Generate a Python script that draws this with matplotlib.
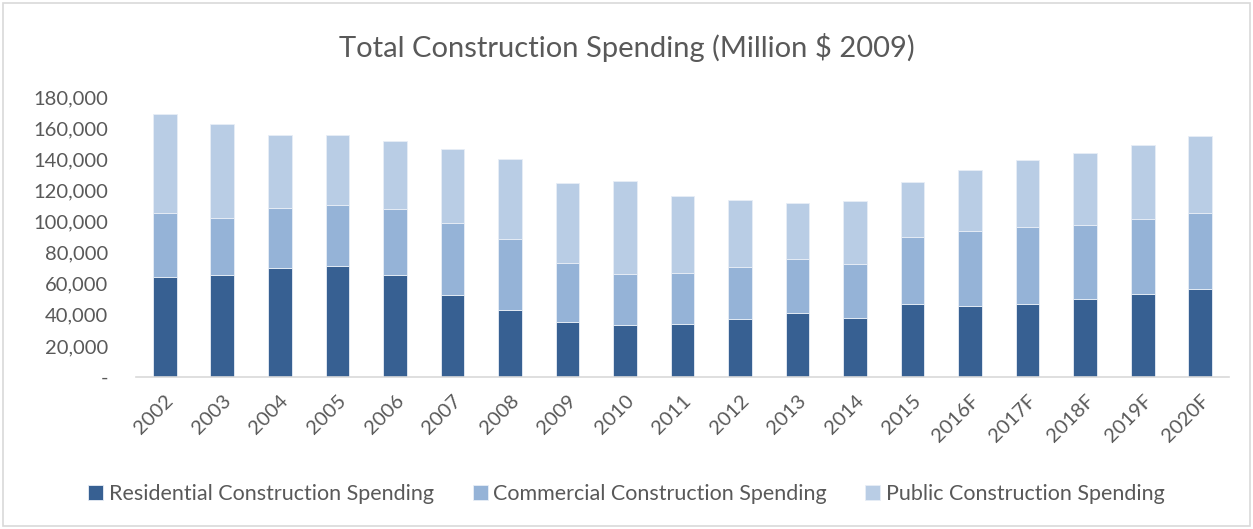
import matplotlib
matplotlib.use("Agg")
import matplotlib.pyplot as plt
from matplotlib.patches import Rectangle
from matplotlib.ticker import FuncFormatter
import numpy as np

plt.rcParams['font.family'] = ['Lato', 'DejaVu Sans']

years = ["2002", "2003", "2004", "2005", "2006", "2007", "2008", "2009", "2010",
         "2011", "2012", "2013", "2014", "2015", "2016F", "2017F", "2018F", "2019F", "2020F"]
residential = [64500, 65400, 70300, 71600, 65400, 52900, 43100, 35600, 33600,
               34300, 37500, 41300, 38100, 47100, 45400, 46900, 50100, 53600, 56800]
commercial = [41100, 37000, 38600, 39000, 42800, 46300, 45800, 37900, 32800,
              32800, 33000, 34800, 34800, 43100, 48500, 49500, 47800, 48200, 48600]
public = [63500, 60200, 46700, 45000, 43700, 47400, 51100, 51200, 59800,
          49000, 43100, 35800, 40000, 35200, 39200, 43100, 46100, 47600, 49400]

labels = ["Residential Construction Spending", "Commercial Construction Spending",
          "Public Construction Spending"]
colors = ["#376092", "#95B3D7", "#B9CDE5"]

fig = plt.figure(figsize=(12.53, 5.29), dpi=100)
ax = fig.add_axes([136/1253, 1-377/529, (1229-136)/1253, 280/529])

x = np.arange(len(years))
res = np.array(residential)
com = np.array(commercial)
pub = np.array(public)
ax.bar(x, res, width=0.41, color=colors[0], edgecolor="#E8EEF6", linewidth=0.6, label=labels[0], zorder=2)
ax.bar(x, com, width=0.41, bottom=res, color=colors[1], edgecolor="#E8EEF6", linewidth=0.6, label=labels[1], zorder=2)
ax.bar(x, pub, width=0.41, bottom=res+com, color=colors[2], edgecolor="#E8EEF6", linewidth=0.6, label=labels[2], zorder=2)

ax.set_xlim(-0.5, len(years)-0.5)
ax.set_ylim(0, 180000)
ax.set_yticks(np.arange(0, 180001, 20000))
ax.yaxis.set_major_formatter(FuncFormatter(lambda v, p: "-" if v == 0 else f"{int(v):,}"))
ax.set_xticks(x)
ax.set_xticklabels(years, rotation=45, ha="right", rotation_mode="anchor")
ax.tick_params(axis="both", length=0, colors="#595959", labelsize=14.5)
ax.tick_params(axis="x", pad=11)
ax.tick_params(axis="y", pad=20)
for s in ["top", "right", "left"]:
    ax.spines[s].set_visible(False)
ax.spines["bottom"].set_color("#D9D9D9")
ax.spines["bottom"].set_linewidth(1.2)

fig.text(0.5, 1-47/529, "Total Construction Spending (Million $ 2009)", ha="center", va="center",
         fontsize=21, color="#595959")

fig.legend(loc="center", bbox_to_anchor=(0.5, 1-494/529), ncol=3, frameon=False,
           fontsize=15.5, labelcolor="#595959", handlelength=0.7, handleheight=0.7,
           handletextpad=0.25, columnspacing=1.8)

fig.patches.append(Rectangle((3/1253, 3/529), 1-6/1253, 1-6/529, transform=fig.transFigure,
                             fill=False, edgecolor="#D9D9D9", linewidth=1.2))

fig.savefig("out.png", dpi=100)
